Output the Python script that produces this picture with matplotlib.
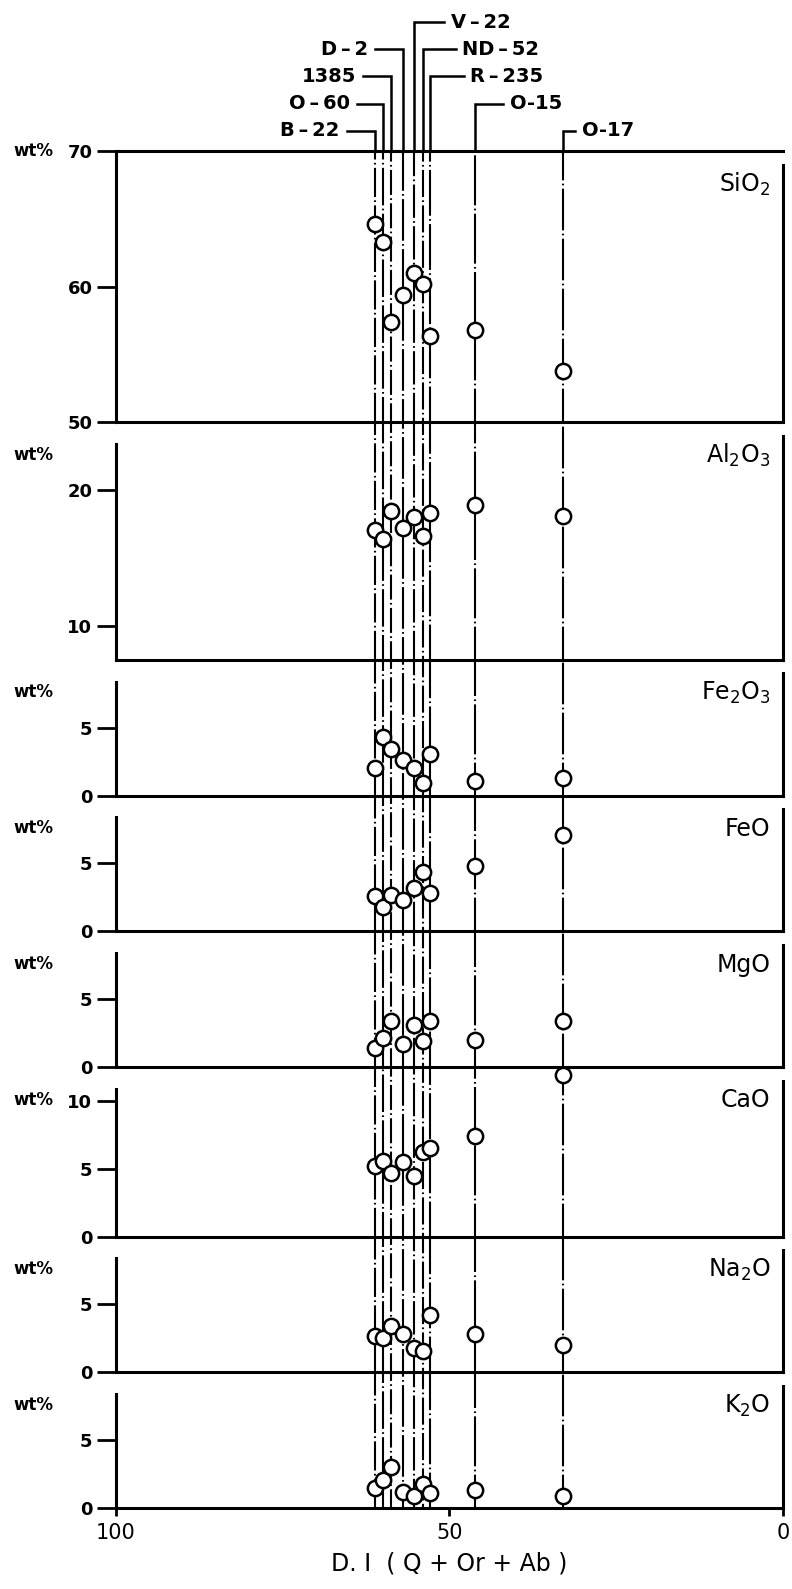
import matplotlib
matplotlib.use("Agg")
import matplotlib.pyplot as plt

# samples, ordered left to right along the D.I. axis
SAMPLES = ["B-22", "O-60", "1385", "D-2", "V-22", "ND-52", "R-235", "O-15", "O-17"]
DI = [61.1, 59.9, 58.7, 56.9, 55.3, 53.9, 52.9, 46.2, 33.0]

SIO2 = [64.6, 63.3, 57.4, 59.4, 61.0, 60.2, 56.4, 56.8, 53.8]
AL2O3 = [17.1, 16.4, 18.5, 17.2, 18.0, 16.6, 18.3, 18.9, 18.1]
FE2O3 = [2.0, 4.3, 3.4, 2.6, 2.0, 0.9, 3.1, 1.1, 1.3]
FEO = [2.6, 1.8, 2.7, 2.3, 3.2, 4.4, 2.8, 4.8, 7.1]
MGO = [1.4, 2.1, 3.4, 1.7, 3.1, 1.9, 3.4, 2.0, 3.4]
CAO = [5.2, 5.6, 4.7, 5.5, 4.5, 6.2, 6.5, 7.4, 11.9]
NA2O = [2.7, 2.5, 3.4, 2.8, 1.8, 1.6, 4.2, 2.8, 2.0]
K2O = [1.5, 2.1, 3.0, 1.2, 0.9, 1.8, 1.1, 1.3, 0.9]

OXIDES = ["SiO$_2$", "Al$_2$O$_3$", "Fe$_2$O$_3$", "FeO", "MgO", "CaO", "Na$_2$O", "K$_2$O"]
VALUES = [SIO2, AL2O3, FE2O3, FEO, MGO, CAO, NA2O, K2O]
Y_RANGES = [(50, 70), (7.5, 25), (0, 10), (0, 10), (0, 10), (0, 12.5), (0, 10), (0, 10)]
Y_TICKS = [[50, 60, 70], [10, 20], [0, 5], [0, 5], [0, 5], [0, 5, 10], [0, 5], [0, 5]]
X_TICKS = [100, 50, 0]

# label layout above the top panel
LABEL_LEVEL = [0, 1, 2, 3, 4, 3, 2, 1, 0]
LABEL_SIDE = ["left", "left", "left", "left", "right", "right", "right", "right", "right"]
LEADER_LEN = [4.3, 4.0, 4.3, 4.2, 4.5, 4.8, 5.0, 4.2, 1.8]
WIDE_DASH = [True, True, False, True, True, True, True, False, False]
LINE_STYLES = [
    (0, (14, 1.6, 0.8, 1.6)),
    (6, (18, 1.6, 0.8, 1.6)),
    (3, (12, 1.6, 0.8, 1.6)),
    (9, (20, 1.6, 0.8, 1.6)),
    (2, (16, 1.6, 0.8, 1.6)),
    (11, (13, 1.6, 0.8, 1.6)),
    (5, (22, 1.6, 0.8, 1.6)),
    (8, (24, 1.6, 0.8, 1.6)),
    (4, (20, 1.6, 0.8, 1.6)),
]


def label_text(name, wide):
    # the original lettering puts a long, spaced dash in most sample names
    return name.replace("-", "\u2009\u2013\u2009") if wide else name


fig = plt.figure(figsize=(7.92, 15.89), dpi=100)
grid = fig.add_gridspec(
    len(OXIDES), 1,
    height_ratios=[hi - lo for lo, hi in Y_RANGES],
    hspace=0,
    left=116 / 792, right=783 / 792,
    top=1 - 151 / 1589, bottom=1 - 1508 / 1589,
)
axes = [fig.add_subplot(grid[i]) for i in range(len(OXIDES))]

for i, ax in enumerate(axes):
    lo, hi = Y_RANGES[i]
    ax.set_xlim(100, 0)
    ax.set_ylim(lo, hi)
    ax.set_facecolor("none")
    for spine in ax.spines.values():
        spine.set_linewidth(2.2)
    ax.spines["top"].set_visible(i == 0)
    ax.spines["left"].set_bounds(lo, hi if i == 0 else hi - 1.6)
    ax.spines["right"].set_bounds(lo, hi - 1.0)

    ax.set_yticks(Y_TICKS[i])
    ax.tick_params(axis="y", direction="out", length=14, width=2, labelsize=13, pad=3)
    for label in ax.get_yticklabels():
        label.set_fontweight("bold")
    if i < len(axes) - 1:
        ax.set_xticks([])

    for k, di in enumerate(DI):
        ax.axvline(di, color="black", lw=1.5, linestyle=LINE_STYLES[k], zorder=1)
    ax.plot(DI, VALUES[i], "o", ms=11, mfc="white", mec="black", mew=1.8,
            zorder=4, clip_on=False)

    ax.annotate(OXIDES[i], (1, 1), xycoords="axes fraction", xytext=(-9, -24),
                textcoords="offset points", ha="right", va="center", fontsize=17)
    wt_y = hi if i == 0 else hi - 2.4
    ax.text(-0.154, wt_y, "wt%", transform=ax.get_yaxis_transform(),
            ha="left", va="center", fontsize=12, fontweight="bold")

# sample names with leader lines above the SiO2 panel
top = axes[0]
for k, name in enumerate(SAMPLES):
    y_lab = 71.5 + 2.0 * LABEL_LEVEL[k]
    sign = 1 if LABEL_SIDE[k] == "left" else -1
    x_end = DI[k] + sign * LEADER_LEN[k]
    top.plot([DI[k], DI[k], x_end], [70, y_lab, y_lab], color="black", lw=1.8,
             clip_on=False, solid_joinstyle="miter")
    top.annotate(label_text(name, WIDE_DASH[k]), (x_end, y_lab),
                 xytext=(-5 * sign, 0), textcoords="offset points",
                 ha="right" if sign > 0 else "left", va="center",
                 fontsize=14, fontweight="bold", annotation_clip=False)

bottom = axes[-1]
bottom.set_xticks(X_TICKS)
bottom.set_xticklabels([str(t) for t in X_TICKS])
bottom.tick_params(axis="x", direction="out", length=6, width=2, labelsize=15, pad=5)
bottom.set_xlabel("D. I  ( Q + Or + Ab )", fontsize=17, labelpad=6)

fig.savefig("out.png", dpi=100)
